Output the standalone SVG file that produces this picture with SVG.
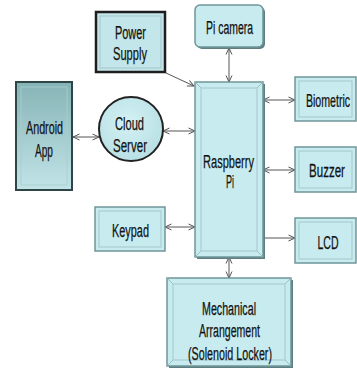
<svg xmlns="http://www.w3.org/2000/svg" width="357" height="368" viewBox="0 0 357 368">
<defs>
<linearGradient id="gAndroid" x1="0" y1="0" x2="0" y2="1">
<stop offset="0" stop-color="#86b4b6"/><stop offset="1" stop-color="#c2e4e8"/>
</linearGradient>
<radialGradient id="gCloud" cx="0.45" cy="0.4" r="0.7">
<stop offset="0" stop-color="#d4f2f4"/><stop offset="1" stop-color="#b4dde2"/>
</radialGradient>
<marker id="ah" viewBox="0 0 8 8" refX="7.5" refY="4" markerWidth="8" markerHeight="8" markerUnits="userSpaceOnUse" orient="auto-start-reverse">
<path d="M1,1 L7.5,4 L1,7" fill="none" stroke="#555" stroke-width="1"/>
</marker>
</defs>
<style>
.box{fill:#c7ebef;stroke:#6f9698;stroke-width:1.5}
.inner{fill:none;stroke:#9dbfc2;stroke-width:0.8}
.shadow{fill:#5d7f81}
.lbl{font-family:"Liberation Sans",Arial,sans-serif;font-size:18px;fill:#111;stroke:#111;stroke-width:0.25;text-anchor:middle}
.conn{stroke:#555;stroke-width:1;fill:none}
</style>
<rect width="357" height="368" fill="#ffffff"/>

<g id="connectors">
<line class="conn" x1="166" y1="73" x2="194" y2="86" marker-end="url(#ah)"/>
<line class="conn" x1="229" y1="48" x2="229" y2="82" marker-start="url(#ah)" marker-end="url(#ah)"/>
<line class="conn" x1="73" y1="137" x2="99" y2="137" marker-start="url(#ah)" marker-end="url(#ah)"/>
<line class="conn" x1="163" y1="131" x2="195" y2="131" marker-start="url(#ah)" marker-end="url(#ah)"/>
<line class="conn" x1="263" y1="100" x2="295" y2="100" marker-start="url(#ah)" marker-end="url(#ah)"/>
<line class="conn" x1="263" y1="170" x2="295" y2="170" marker-start="url(#ah)" marker-end="url(#ah)"/>
<line class="conn" x1="165" y1="227" x2="195" y2="227" marker-start="url(#ah)" marker-end="url(#ah)"/>
<line class="conn" x1="263" y1="238" x2="295" y2="238" marker-end="url(#ah)"/>
<line class="conn" x1="229" y1="257" x2="229" y2="278" marker-start="url(#ah)" marker-end="url(#ah)"/>
</g>

<g id="power-supply">
<rect x="96" y="12" width="69" height="60" fill="#c3e6ea" stroke="#1e1e1e" stroke-width="2.5"/>
<rect x="100" y="16" width="61" height="52" class="inner"/>
<text class="lbl" x="130.5" y="39" textLength="31" lengthAdjust="spacingAndGlyphs">Power</text>
<text class="lbl" x="130" y="60" textLength="34" lengthAdjust="spacingAndGlyphs">Supply</text>
</g>

<g id="android-app">
<rect x="16" y="82" width="56" height="108" fill="url(#gAndroid)" stroke="#2f4646" stroke-width="2"/>
<rect x="21" y="87" width="46" height="98" fill="none" stroke="#a8cccd" stroke-width="0.8"/>
<text class="lbl" x="44.5" y="134" textLength="37" lengthAdjust="spacingAndGlyphs">Android</text>
<text class="lbl" x="44" y="157" textLength="18" lengthAdjust="spacingAndGlyphs">App</text>
</g>

<g id="cloud-server">
<circle cx="131" cy="129" r="32" fill="url(#gCloud)" stroke="#222" stroke-width="2"/>
<text class="lbl" x="129.5" y="130" textLength="29" lengthAdjust="spacingAndGlyphs">Cloud</text>
<text class="lbl" x="130" y="152" textLength="34" lengthAdjust="spacingAndGlyphs">Server</text>
</g>

<g id="pi-camera">
<rect x="197" y="7" width="68" height="42" rx="5" class="shadow"/>
<rect x="195" y="5" width="68" height="42" rx="5" class="box"/>
<text class="lbl" x="229.5" y="34" textLength="47" lengthAdjust="spacingAndGlyphs">Pi camera</text>
</g>

<g id="raspberry-pi">
<rect x="197" y="84" width="68" height="175" class="shadow"/>
<rect x="195" y="82" width="68" height="175" class="box"/>
<path d="M195,82 L201,88 M263,82 L257,88 M195,257 L201,251 M263,257 L257,251" stroke="#8fb3b6" stroke-width="0.8"/>
<rect x="201" y="88" width="56" height="163" class="inner"/>
<text class="lbl" x="228.5" y="168" textLength="51" lengthAdjust="spacingAndGlyphs">Raspberry</text>
<text class="lbl" x="230" y="188" textLength="8" lengthAdjust="spacingAndGlyphs">Pi</text>
</g>

<g id="biometric">
<rect x="295" y="77" width="61" height="44" class="box"/>
<rect x="299" y="81" width="53" height="36" class="inner"/>
<text class="lbl" transform="translate(328,107) scale(0.59,1)" x="0" y="0">Biometric</text>
</g>

<g id="buzzer">
<rect x="295" y="147" width="61" height="45" class="box"/>
<rect x="299" y="151" width="53" height="37" class="inner"/>
<text class="lbl" transform="translate(327,177) scale(0.64,1)" x="0" y="0">Buzzer</text>
</g>

<g id="keypad">
<rect x="95" y="207" width="70" height="44" class="box"/>
<rect x="99" y="211" width="62" height="36" class="inner"/>
<text class="lbl" x="130.5" y="237" textLength="37" lengthAdjust="spacingAndGlyphs">Keypad</text>
</g>

<g id="lcd">
<rect x="295" y="218" width="61" height="45" class="box"/>
<rect x="299" y="222" width="53" height="37" class="inner"/>
<text class="lbl" x="328" y="249" textLength="21" lengthAdjust="spacingAndGlyphs">LCD</text>
</g>

<g id="mechanical">
<rect x="169" y="280" width="124" height="88" class="shadow"/>
<rect x="167" y="278" width="124" height="88" class="box"/>
<path d="M167,278 L173,284 M291,278 L285,284 M167,366 L173,360 M291,366 L285,360" stroke="#8fb3b6" stroke-width="0.8"/>
<rect x="173" y="284" width="112" height="76" class="inner"/>
<text class="lbl" x="229" y="315" textLength="54" lengthAdjust="spacingAndGlyphs">Mechanical</text>
<text class="lbl" x="229.5" y="337" textLength="61" lengthAdjust="spacingAndGlyphs">Arrangement</text>
<text class="lbl" x="230" y="360" textLength="84" lengthAdjust="spacingAndGlyphs">(Solenoid Locker)</text>
</g>
</svg>
